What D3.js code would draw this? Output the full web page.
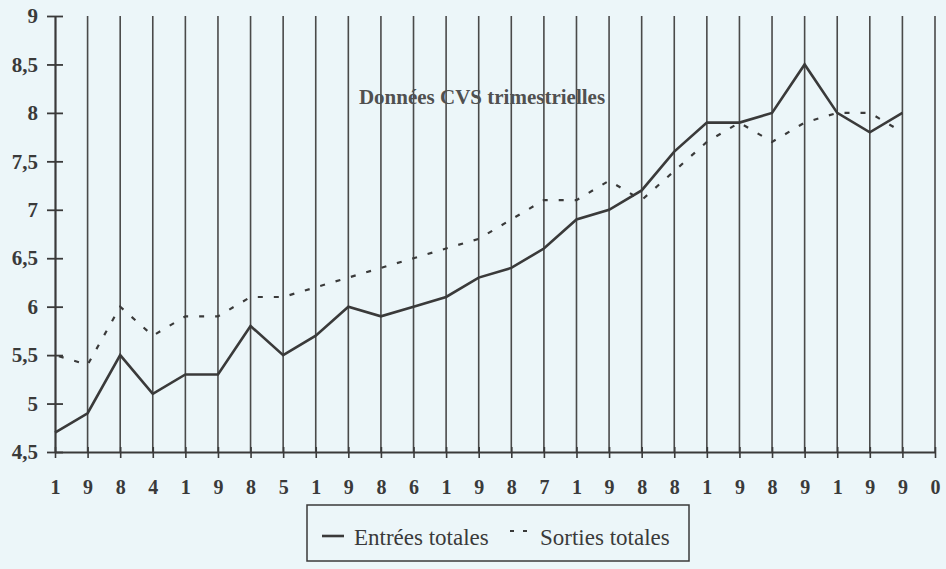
<!DOCTYPE html>
<html>
<head>
<meta charset="utf-8">
<script src="https://cdn.jsdelivr.net/npm/d3@7"></script>
<style>
  body { margin: 0; background: #ecf6f9; }
  svg { display: block; }
</style>
</head>
<body>
<div id="chart"></div>
<script>
// quarterly data, 1984 T1 -> 1990 T3
var entrees = [4.7, 4.9, 5.5, 5.1, 5.3, 5.3, 5.8, 5.5, 5.7, 6.0, 5.9, 6.0, 6.1, 6.3,
               6.4, 6.6, 6.9, 7.0, 7.2, 7.6, 7.9, 7.9, 8.0, 8.5, 8.0, 7.8, 8.0];
var sorties = [5.5, 5.4, 6.0, 5.7, 5.9, 5.9, 6.1, 6.1, 6.2, 6.3, 6.4, 6.5, 6.6, 6.7,
               6.9, 7.1, 7.1, 7.3, 7.1, 7.4, 7.7, 7.9, 7.7, 7.9, 8.0, 8.0, 7.8];
// the years are written one digit per gridline
var xLabels = ["1","9","8","4","1","9","8","5","1","9","8","6","1","9","8","7",
               "1","9","8","8","1","9","8","9","1","9","9","0"];
var yTicks = [4.5, 5, 5.5, 6, 6.5, 7, 7.5, 8, 8.5, 9];
var note = "Données CVS trimestrielles";
var seriesNames = ["Entrées totales", "Sorties totales"];

var width = 946, height = 569;
var ink = "#3a3a3a";
var serif = "'Liberation Serif', 'DejaVu Serif', serif";

var svg = d3.select("#chart")
  .append("svg")
    .attr("width", width)
    .attr("height", height);

svg.append("rect")
  .attr("width", width).attr("height", height)
  .attr("fill", "#ecf6f9");

var x = d3.scaleLinear()
  .domain([0, xLabels.length - 1])
  .range([55, 935]);

var y = d3.scaleLinear()
  .domain([4.5, 9])
  .range([452, 16]);

// vertical gridlines
svg.append("g")
  .selectAll("line")
  .data(d3.range(1, xLabels.length))
  .enter()
  .append("line")
    .attr("x1", function(d) { return x(d); })
    .attr("x2", function(d) { return x(d); })
    .attr("y1", y(9))
    .attr("y2", y(4.5))
    .style("stroke", "#4a4a4a")
    .style("stroke-width", 1.6);

// X axis
var xAxis = svg.append("g")
  .attr("transform", "translate(0," + y(4.5) + ")")
  .call(d3.axisBottom(x)
    .tickValues(d3.range(xLabels.length))
    .tickFormat(function(d) { return xLabels[d]; })
    .tickSizeOuter(0)
    .tickPadding(22));
xAxis.select(".domain").style("stroke", ink).style("stroke-width", 2.2);
xAxis.selectAll(".tick line").attr("y1", -5).attr("y2", 6)
  .style("stroke", ink).style("stroke-width", 1.6);
xAxis.selectAll(".tick text")
  .style("font-family", serif)
  .style("font-weight", "bold")
  .style("font-size", "20px")
  .style("fill", ink);

// Y axis
var yAxis = svg.append("g")
  .attr("transform", "translate(" + x(0) + ",0)")
  .call(d3.axisLeft(y)
    .tickValues(yTicks)
    .tickFormat(function(d) { return String(d).replace(".", ","); })
    .tickSizeOuter(0)
    .tickPadding(11));
yAxis.select(".domain").style("stroke", ink).style("stroke-width", 2.2);
yAxis.selectAll(".tick line").attr("x1", -8).attr("x2", 8)
  .style("stroke", ink).style("stroke-width", 1.8);
yAxis.selectAll(".tick text")
  .style("font-family", serif)
  .style("font-weight", "bold")
  .style("font-size", "21px")
  .style("fill", ink);

var line = d3.line()
  .x(function(d, i) { return x(i); })
  .y(function(d) { return y(d); });

svg.append("path")
  .datum(sorties)
  .attr("d", line)
  .style("fill", "none")
  .style("stroke", ink)
  .style("stroke-width", 2.2)
  .style("stroke-dasharray", "5,11")
  .style("stroke-dashoffset", -4);

svg.append("path")
  .datum(entrees)
  .attr("d", line)
  .style("fill", "none")
  .style("stroke", ink)
  .style("stroke-width", 2.6)
  .style("stroke-linejoin", "miter");

// annotation
svg.append("text")
  .attr("x", 482)
  .attr("y", 104)
  .attr("text-anchor", "middle")
  .style("font-family", serif)
  .style("font-weight", "bold")
  .style("font-size", "21px")
  .style("fill", "#505050")
  .text(note);

// legend
var leg = svg.append("g");
leg.append("rect")
  .attr("x", 307).attr("y", 505)
  .attr("width", 382).attr("height", 56)
  .style("fill", "none")
  .style("stroke", ink)
  .style("stroke-width", 1.5);
leg.append("line")
  .attr("x1", 322).attr("x2", 344)
  .attr("y1", 536).attr("y2", 536)
  .style("stroke", ink).style("stroke-width", 2.6);
leg.append("text")
  .attr("x", 354).attr("y", 545)
  .style("font-family", serif)
  .style("font-size", "23px")
  .style("fill", ink)
  .text(seriesNames[0]);
leg.append("line")
  .attr("x1", 510).attr("x2", 527)
  .attr("y1", 531).attr("y2", 531)
  .style("stroke", ink).style("stroke-width", 2)
  .style("stroke-dasharray", "4,9");
leg.append("text")
  .attr("x", 540).attr("y", 545)
  .style("font-family", serif)
  .style("font-size", "23px")
  .style("fill", ink)
  .text(seriesNames[1]);
</script>
</body>
</html>
